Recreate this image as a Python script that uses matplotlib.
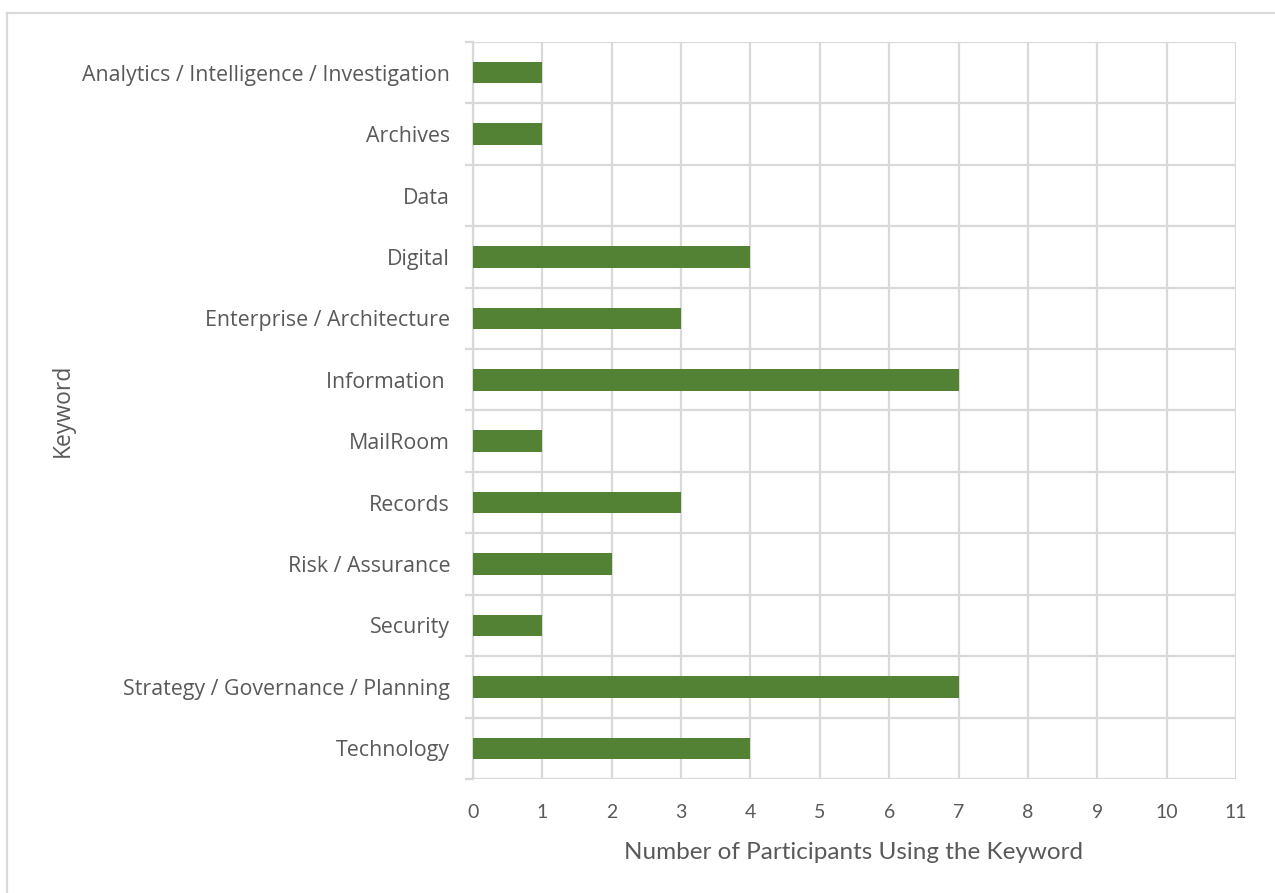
import matplotlib
matplotlib.use("Agg")
from matplotlib import pyplot as plt
from matplotlib.lines import Line2D

keywords = [
    "Analytics / Intelligence / Investigation",
    "Archives",
    "Data",
    "Digital",
    "Enterprise / Architecture",
    "Information ",
    "MailRoom",
    "Records",
    "Risk / Assurance",
    "Security",
    "Strategy / Governance / Planning",
    "Technology",
]
counts = [1, 1, 0, 4, 3, 7, 1, 3, 2, 1, 7, 4]
x_ticks = list(range(12))

text_col = "#595959"
grid_col = "#d9d9d9"
bar_col = "#548235"


def main():
    fig = plt.figure(figsize=(12.75, 8.93), dpi=100)
    ax = fig.add_axes([0.371, 0.1277, 0.5984, 0.8253])

    pos = list(range(len(keywords)))
    ax.barh(pos, counts, height=0.35, color=bar_col, zorder=3)

    ax.set_xlim(0, 11)
    ax.set_ylim(len(keywords) - 0.5, -0.5)
    ax.set_xticks(x_ticks)
    ax.set_xticklabels([str(t) for t in x_ticks], family="Lato", fontsize=14,
                       color=text_col)
    ax.set_yticks(pos)
    ax.set_yticklabels(keywords, family="Open Sans", fontsize=15.4,
                       color=text_col)

    # category boundary gridlines
    ax.set_yticks([p + 0.5 for p in [-1] + pos], minor=True)
    ax.grid(True, axis="y", which="minor", color=grid_col, lw=1.6, zorder=0)
    ax.grid(True, axis="x", which="major", color=grid_col, lw=1.6, zorder=0)
    ax.tick_params(axis="y", which="major", length=0, pad=16.5)
    ax.tick_params(axis="y", which="minor", length=6, color=grid_col, width=1.6)
    ax.tick_params(axis="x", length=0, pad=18)

    for s in ax.spines.values():
        s.set_visible(False)
    ax.spines["left"].set_visible(True)
    ax.spines["left"].set_color(grid_col)
    ax.spines["left"].set_linewidth(1.6)

    ax.set_xlabel("Number of Participants Using the Keyword", family="Lato",
                  fontsize=17.5, color=text_col)
    ax.xaxis.set_label_coords(0.499, -0.085)
    ax.set_ylabel("Keyword", family="Open Sans", fontsize=16.5, color=text_col)
    ax.yaxis.set_label_coords((75 - 473) / 763, 0.5)

    # outer chart border (top and left visible)
    fig.add_artist(Line2D([7 / 1275, 1], [1 - 13 / 893, 1 - 13 / 893],
                          color=grid_col, lw=1.6, transform=fig.transFigure))
    fig.add_artist(Line2D([7 / 1275, 7 / 1275], [0, 1 - 13 / 893],
                          color=grid_col, lw=1.6, transform=fig.transFigure))

    fig.savefig("out.png", dpi=100)


if __name__ == "__main__":
    main()
